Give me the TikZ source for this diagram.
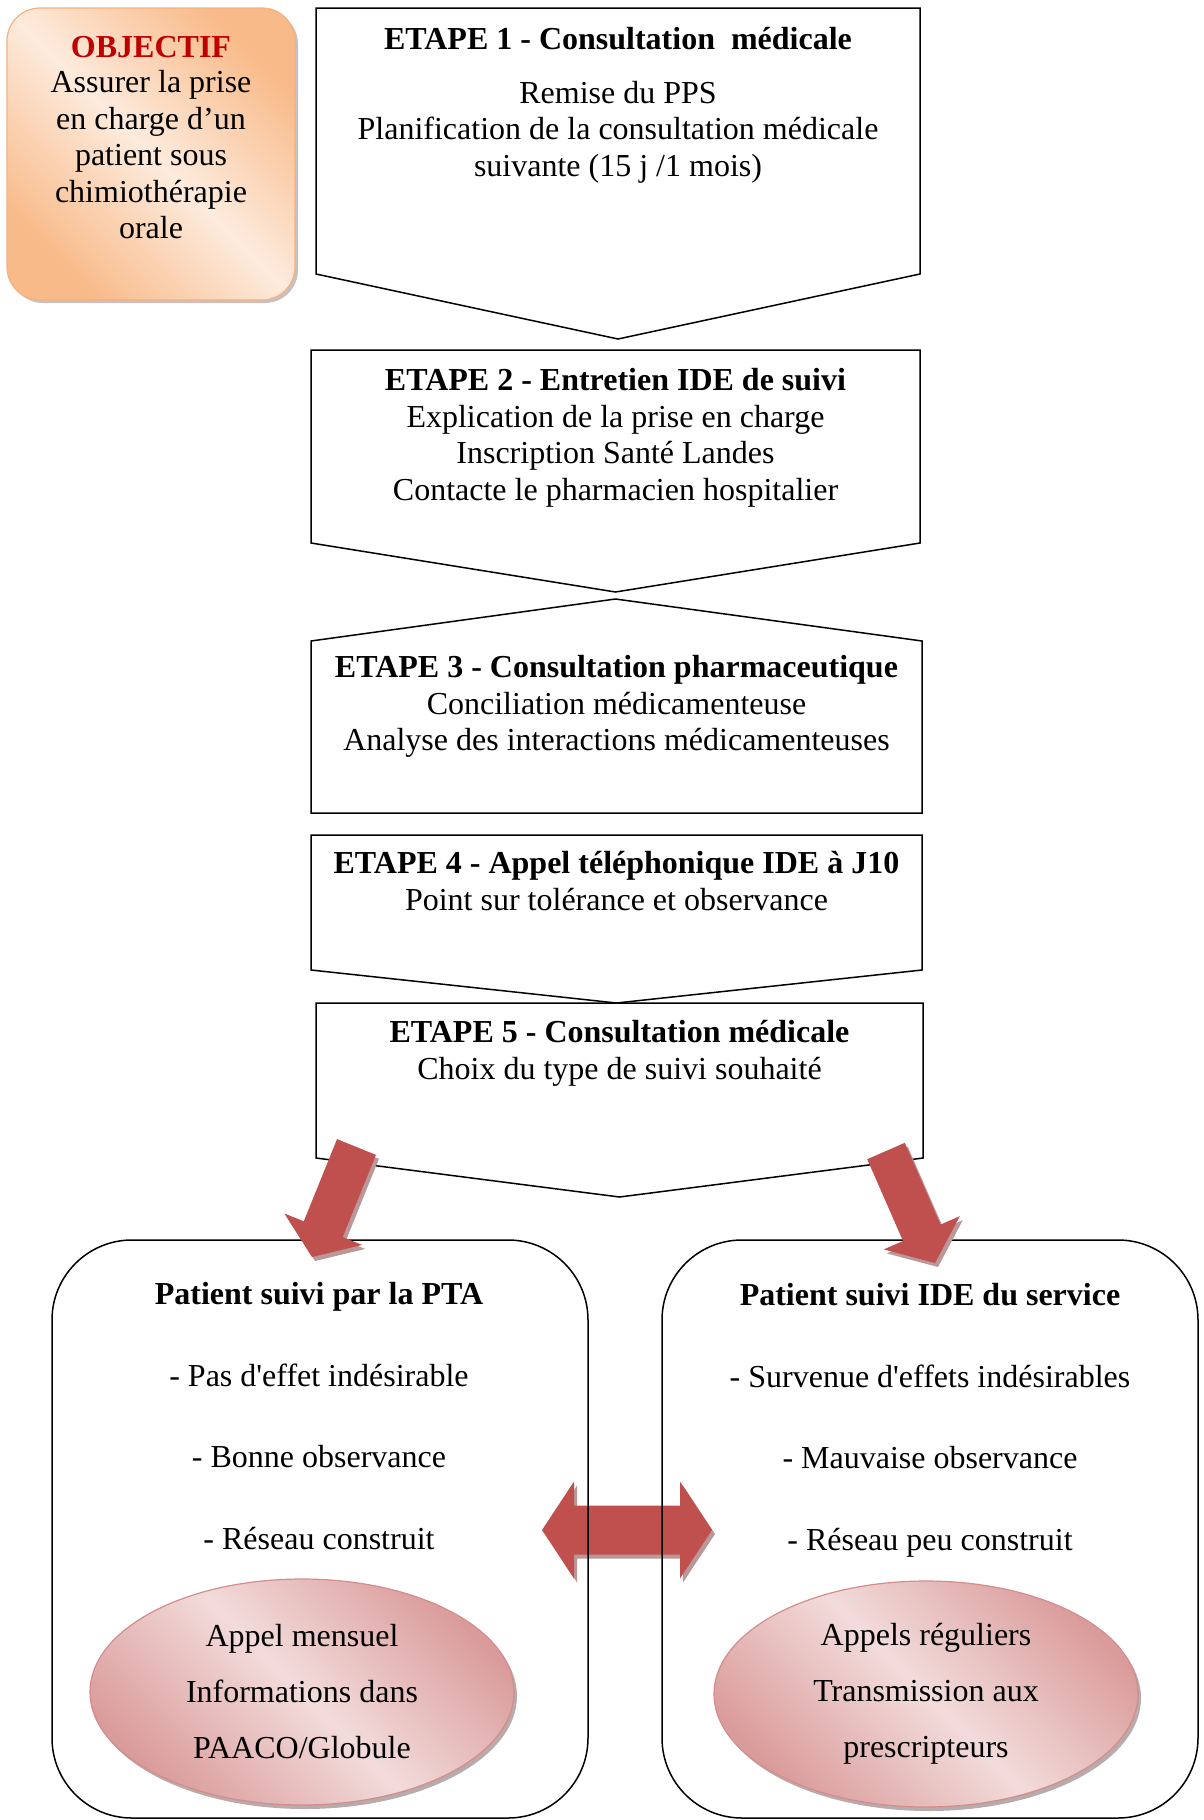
\documentclass[tikz,border=0pt]{standalone}
\usepackage{fontspec}
\setmainfont{Liberation Serif}
\usetikzlibrary{calc,shapes.geometric,shadows}

\definecolor{arrowred}{HTML}{C0504D}
\definecolor{arrowshade}{RGB}{184,152,152}
\definecolor{objred}{HTML}{C00000}
\definecolor{peachlight}{HTML}{FDEBDD}
\definecolor{peachdark}{HTML}{F8BA88}
\definecolor{peachline}{HTML}{F4B183}
\definecolor{roselight}{HTML}{F2DCDB}
\definecolor{rosedark}{HTML}{DA9C9B}
\definecolor{roseline}{HTML}{D58C8A}
\definecolor{shadowgrey}{RGB}{165,150,150}

% block arrow from tail to tip: #3 half shaft, #4 half head, #5 head length
\newcommand{\blockarrow}[5]{%
  \coordinate (#1-base) at ($(#2)!#5!(#1)$);
  \fill[blockarrow] ($(#1)!#3!90:(#2)$) -- ($(#1-base)!#3!90:(#2)$)
    -- ($(#1-base)!#4!90:(#2)$) -- (#2)
    -- ($(#1-base)!#4!-90:(#2)$) -- ($(#1-base)!#3!-90:(#2)$)
    -- ($(#1)!#3!-90:(#2)$) -- cycle;}

\tikzset{
  stepbox/.style={draw, line width=1.5pt, fill=white},
  steptext/.style={align=center, inner sep=0pt, anchor=north,
    font=\fontsize{32}{36.6}\selectfont},
  patientbox/.style={draw, line width=1.5pt, rounded corners=80pt,
    minimum width=536pt, minimum height=578pt},
  calloval/.style={ellipse, draw=roseline, line width=1.2pt,
    minimum width=424pt, minimum height=226pt, inner sep=0pt, align=center,
    font=\fontsize{32}{37}\selectfont,
    top color=rosedark, bottom color=rosedark, middle color=roselight,
    shading angle=-45,
    drop shadow={shadow xshift=3pt, shadow yshift=-4pt, fill=shadowgrey, opacity=0.8}},
  objbox/.style={draw=peachline, line width=1.2pt, rounded corners=33pt,
    minimum width=288pt, minimum height=292pt,
    top color=peachdark, bottom color=peachdark, middle color=peachlight,
    shading angle=-45,
    drop shadow={shadow xshift=3pt, shadow yshift=-3pt, fill=shadowgrey, opacity=0.6}},
  blockarrow/.style={fill=arrowred,
    preaction={fill=arrowshade, transform canvas={xshift=3pt, yshift=-4pt}}},
}

\begin{document}
\begin{tikzpicture}[x=1pt, y=-1pt]
    \useasboundingbox (0,0) rectangle (1203,1820);
    % Draw the two-way arrow between the follow-up boxes
    \coordinate (swapL) at (542,1530);
    \coordinate (swapR) at (712,1530);
    \fill[blockarrow] (swapL) -- ++(32,-48.5) -- ++(0,24)
        -- ($(swapR)+(-32,-24.5)$) -- ++(0,-24) -- (swapR)
        -- ++(-32,48.5) -- ++(0,-24) -- ($(swapL)+(32,24.5)$)
        -- ++(0,24) -- cycle;
    % Draw the follow-up boxes
    \node[patientbox] (pta) at (320,1529) {};
    \node[patientbox] (ide) at (930,1529) {};
    \node[steptext] (ptatext) at (319,1282) {\textbf{Patient suivi par la PTA}\\[45pt]
        - Pas d\textquotesingle effet indésirable\\[45pt]- Bonne observance\\[45pt]- Réseau construit};
    \node[steptext] (idetext) at (930,1283) {\textbf{Patient suivi IDE du service}\\[45pt]
        - Survenue d\textquotesingle effets indésirables\\[45pt]- Mauvaise observance\\[45pt]- Réseau peu construit};
    \node[calloval] (ptacall) at (302,1692) {Appel mensuel\\[19pt]Informations dans\\[19pt]PAACO/Globule};
    \node[calloval] (idecall) at (926,1694) {Appels réguliers\\[19pt]Transmission aux\\[19pt]prescripteurs};
    % Draw the five steps
    \draw[stepbox] (316,8) -- (920,8) -- (920,274) -- (618,339) -- (316,274) -- cycle;
    \draw[stepbox] (311,350) -- (920,350) -- (920,543) -- (615.5,592) -- (311,543) -- cycle;
    \draw[stepbox] (311,641) -- (615.5,599) -- (922,641) -- (922,813) -- (311,813) -- cycle;
    \draw[stepbox] (311,835) -- (922,835) -- (922,970) -- (616.5,1003) -- (311,970) -- cycle;
    \draw[stepbox] (316,1003) -- (923,1003) -- (923,1158) -- (619.5,1197) -- (316,1158) -- cycle;
    \node[steptext] (e1) at (618,27) {\textbf{ETAPE 1 - Consultation~ médicale}\\[17pt]
        Remise du PPS\\Planification de la consultation médicale\\suivante (15 j /1 mois)};
    \node[steptext] (e2) at (615.5,368) {\textbf{ETAPE 2 - Entretien IDE de suivi}\\
        Explication de la prise en charge\\Inscription Santé Landes\\Contacte le pharmacien hospitalier};
    \node[steptext] (e3) at (616.5,655) {\textbf{ETAPE 3 - Consultation pharmaceutique}\\
        Conciliation médicamenteuse\\Analyse des interactions médicamenteuses};
    \node[steptext] (e4) at (616.5,851) {\textbf{ETAPE 4 - Appel téléphonique IDE à J10}\\
        Point sur tolérance et observance};
    \node[steptext] (e5) at (619.5,1020) {\textbf{ETAPE 5 - Consultation médicale}\\
        Choix du type de suivi souhaité};
    % Draw the objective
    \node[objbox] (objbox) at (151,154) {};
    \node[steptext] (objtext) at (151,36.5) {\textcolor{objred}{\textbf{OBJECTIF}}\\[-2pt]
        Assurer la prise\\en charge d’un\\patient sous\\chimiothérapie\\orale};
    % Draw the arrows from step 5 to the two kinds of follow-up
    \coordinate (ptaTail) at (356.5,1147);
    \coordinate (ptaTip) at (312,1257);
    \coordinate (ideTail) at (886,1151);
    \coordinate (ideTip) at (935,1263);
    \blockarrow{ptaTail}{ptaTip}{21pt}{42pt}{30pt}
    \blockarrow{ideTail}{ideTip}{20.5pt}{41.5pt}{33pt}
\end{tikzpicture}
\end{document}
